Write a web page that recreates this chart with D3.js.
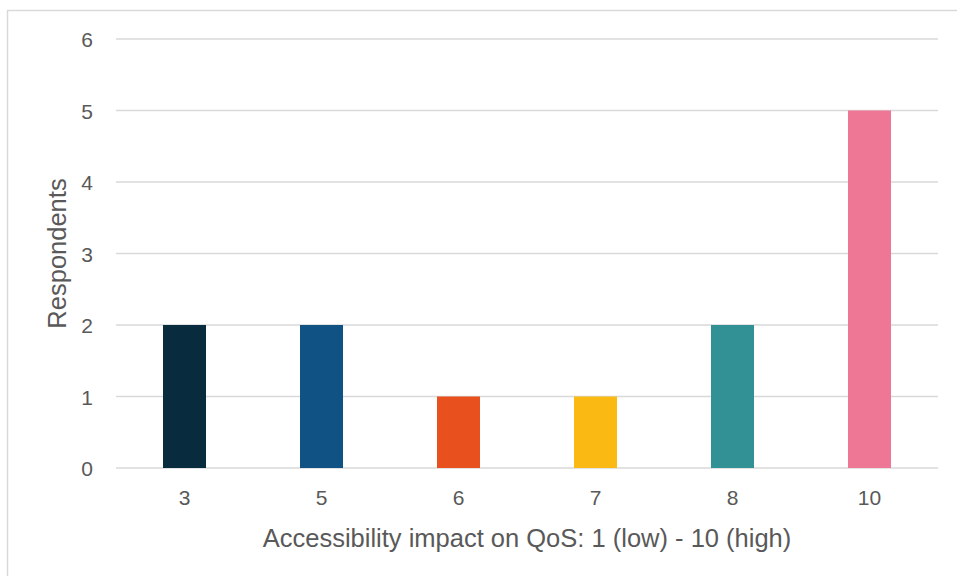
<!DOCTYPE html>
<html>
<head>
<meta charset="utf-8">
<script src="https://cdn.jsdelivr.net/npm/d3@7"></script>
<style>
  html, body { margin: 0; padding: 0; background: #fff; }
  svg { display: block; font-family: "Liberation Sans", Arial, sans-serif; }
</style>
</head>
<body>
<svg id="chart" width="957" height="576"></svg>
<script>
// Ratings given (x) and the number of respondents for each
const categories = ["3", "5", "6", "7", "8", "10"];
const respondents = [2, 2, 1, 1, 2, 5];
const barColors = ["#082B3D", "#0F5283", "#E8501E", "#FBBA13", "#329194", "#EE7796"];
const yTicks = [0, 1, 2, 3, 4, 5, 6];
const xTitle = "Accessibility impact on QoS: 1 (low) - 10 (high)";
const yTitle = "Respondents";

const svg = d3.select("#chart");
const margin = { left: 116, right: 19, top: 39, bottom: 108 };
const W = 957, H = 576;
const font = "'Liberation Sans', Arial, sans-serif";

// Chart frame
svg.append("rect")
  .attr("x", 7.5).attr("y", 10.5)
  .attr("width", 980).attr("height", 600)
  .attr("fill", "none").attr("stroke", "#D9D9D9").attr("stroke-width", 1.5);

const x = d3.scaleBand()
  .domain(categories)
  .range([margin.left, W - margin.right])
  .paddingInner(0.686)
  .paddingOuter(0.343);

const y = d3.scaleLinear()
  .domain([0, 6])
  .range([H - margin.bottom, margin.top]);

// Horizontal gridlines
svg.append("g")
  .selectAll("line")
  .data(yTicks)
  .join("line")
  .attr("x1", margin.left).attr("x2", W - margin.right)
  .attr("y1", d => y(d)).attr("y2", d => y(d))
  .attr("stroke", "#D9D9D9").attr("stroke-width", 1.5);

// Bars
svg.append("g")
  .selectAll("rect")
  .data(categories)
  .join("rect")
  .attr("x", d => x(d))
  .attr("width", x.bandwidth())
  .attr("y", (d, i) => y(respondents[i]))
  .attr("height", (d, i) => y(0) - y(respondents[i]))
  .attr("fill", (d, i) => barColors[i]);

// Y axis labels
const yAxis = svg.append("g")
  .attr("transform", `translate(${margin.left}, 0)`)
  .call(d3.axisLeft(y).tickValues(yTicks).tickSize(0).tickPadding(23).tickFormat(d3.format("d")));
yAxis.select(".domain").remove();
yAxis.attr("font-size", 21).attr("font-family", font);
yAxis.selectAll("text").attr("fill", "#595959").attr("dy", "0.36em");

// X axis labels
const xAxis = svg.append("g")
  .attr("transform", `translate(0, ${y(0)})`)
  .call(d3.axisBottom(x).tickSize(0).tickPadding(22));
xAxis.select(".domain").remove();
xAxis.attr("font-size", 21).attr("font-family", font);
xAxis.selectAll("text").attr("fill", "#595959");

// Axis titles
svg.append("text")
  .attr("x", (margin.left + W - margin.right) / 2)
  .attr("y", 547)
  .attr("text-anchor", "middle")
  .attr("fill", "#595959")
  .attr("font-size", 25.5)
  .text(xTitle);

svg.append("text")
  .attr("transform", `translate(66, ${(y(0) + y(6)) / 2}) rotate(-90)`)
  .attr("text-anchor", "middle")
  .attr("fill", "#595959")
  .attr("font-size", 25.5)
  .text(yTitle);
</script>
</body>
</html>
